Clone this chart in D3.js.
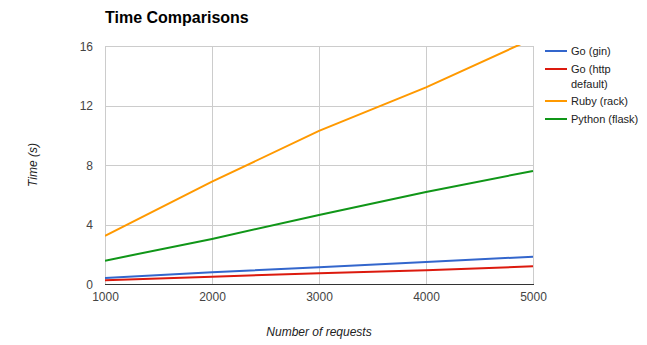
<!DOCTYPE html>
<html>
<head>
<meta charset="utf-8">
<script src="https://cdn.jsdelivr.net/npm/d3@7"></script>
<style>
  body { margin: 0; background: #fff; }
  svg { display: block; font-family: "Liberation Sans", Arial, sans-serif; }
</style>
</head>
<body>
<svg id="chart" width="647" height="345"></svg>
<script>
// Request counts on the x axis
const requests = [1000, 2000, 3000, 4000, 5000];
// Response times in seconds for each server
const goGin = [0.40, 0.79, 1.12, 1.48, 1.84];
const goHttp = [0.25, 0.49, 0.72, 0.92, 1.19];
const rubyRack = [3.23, 6.88, 10.29, 13.22, 16.5];
const pythonFlask = [1.57, 3.03, 4.64, 6.19, 7.60];
const xTicks = [1000, 2000, 3000, 4000, 5000];
const yTicks = [0, 4, 8, 12, 16];

const series = [
  { name: ["Go (gin)"], values: goGin, color: "#3366cc" },
  { name: ["Go (http", "default)"], values: goHttp, color: "#dc1a0e" },
  { name: ["Ruby (rack)"], values: rubyRack, color: "#ff9900" },
  { name: ["Python (flask)"], values: pythonFlask, color: "#109618" }
];

const svg = d3.select("#chart");
const plotLeft = 105, plotRight = 533, plotTop = 46, plotBottom = 284;

const x = d3.scaleLinear().domain([1000, 5000]).range([plotLeft, plotRight]);
const y = d3.scaleLinear().domain([0, 16]).range([plotBottom, plotTop]);

// Title
svg.append("text")
  .attr("x", 105).attr("y", 23)
  .attr("font-size", 16).attr("font-weight", "bold")
  .attr("fill", "#000")
  .text("Time Comparisons");

// Gridlines
const grid = svg.append("g");
grid.selectAll("line.v").data(xTicks).join("line")
  .attr("x1", d => x(d) + 0.5).attr("x2", d => x(d) + 0.5)
  .attr("y1", plotTop).attr("y2", plotBottom)
  .attr("stroke", "#cccccc").attr("stroke-width", 1);
grid.selectAll("line.h").data(yTicks.filter(d => d > 0)).join("line")
  .attr("x1", plotLeft).attr("x2", plotRight)
  .attr("y1", d => Math.round(y(d)) + 0.5).attr("y2", d => Math.round(y(d)) + 0.5)
  .attr("stroke", "#cccccc").attr("stroke-width", 1);

// Axes (labels only; gridlines drawn above)
const yAxis = svg.append("g")
  .attr("transform", `translate(${plotLeft - 12},0)`)
  .call(d3.axisLeft(y).tickValues(yTicks).tickSize(0).tickPadding(0).tickFormat(d3.format("d")));
yAxis.select(".domain").remove();
yAxis.selectAll("text").attr("font-size", 12).attr("fill", "#444")
  .attr("font-family", "Liberation Sans, Arial, sans-serif").attr("dy", "0.35em");

const xAxis = svg.append("g")
  .attr("transform", `translate(0,${plotBottom + 8})`)
  .call(d3.axisBottom(x).tickValues(xTicks).tickSize(0).tickPadding(0).tickFormat(d3.format("d")));
xAxis.select(".domain").remove();
xAxis.selectAll("text").attr("font-size", 12).attr("fill", "#444")
  .attr("font-family", "Liberation Sans, Arial, sans-serif");

// Baseline
svg.append("line")
  .attr("x1", plotLeft).attr("x2", plotRight + 1)
  .attr("y1", plotBottom + 0.5).attr("y2", plotBottom + 0.5)
  .attr("stroke", "#333").attr("stroke-width", 1);

// Axis titles
svg.append("text")
  .attr("x", 319).attr("y", 336)
  .attr("text-anchor", "middle")
  .attr("font-size", 12).attr("font-style", "italic").attr("fill", "#222")
  .text("Number of requests");
svg.append("text")
  .attr("transform", `translate(37,${(plotTop + plotBottom) / 2}) rotate(-90)`)
  .attr("text-anchor", "middle")
  .attr("font-size", 12).attr("font-style", "italic").attr("fill", "#222")
  .text("Time (s)");

// Series lines, clipped to the plot area
svg.append("clipPath").attr("id", "plot-clip")
  .append("rect").attr("x", plotLeft).attr("y", plotTop - 1)
  .attr("width", plotRight - plotLeft + 1).attr("height", plotBottom - plotTop + 2);

const line = d3.line()
  .x((d, i) => x(requests[i]))
  .y(d => y(d));

svg.append("g").attr("clip-path", "url(#plot-clip)")
  .selectAll("path").data(series).join("path")
  .attr("d", s => line(s.values))
  .attr("fill", "none")
  .attr("stroke", s => s.color)
  .attr("stroke-width", 2);

// Legend
const legendRows = [51, 69, 101, 119];
const legend = svg.append("g");
series.forEach((s, i) => {
  const yy = legendRows[i];
  legend.append("line")
    .attr("x1", 545).attr("x2", 567)
    .attr("y1", yy).attr("y2", yy)
    .attr("stroke", s.color).attr("stroke-width", 2);
  s.name.forEach((t, j) => {
    legend.append("text")
      .attr("x", 571).attr("y", yy + 4 + j * 15)
      .attr("font-size", 11).attr("fill", "#222")
      .text(t);
  });
});
</script>
</body>
</html>
